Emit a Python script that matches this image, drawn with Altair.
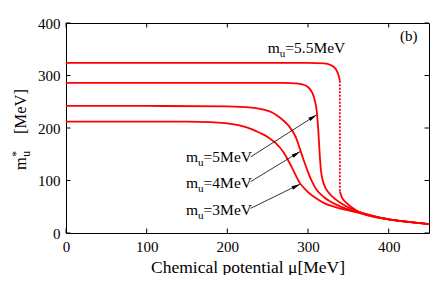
import math
import altair as alt
import pandas as pd

# ---------------- data ----------------
mu_3 = [0, 100, 150, 180, 200, 215, 230, 240, 250, 260, 270, 280, 290, 300, 310, 320, 335, 350, 370, 400, 425, 450]
m_3 = [212, 212, 212, 211, 209, 205, 198, 191, 183, 171, 153, 125, 95, 78, 66, 57, 49, 43, 36, 26, 21, 17]

mu_4 = [0, 100, 200, 230, 245, 255, 265, 275, 285, 290, 295, 300, 305, 310, 320, 335, 350, 370, 400, 425, 450]
m_4 = [242, 242, 241, 239, 235, 230, 220, 206, 182, 160, 137, 116, 98, 84, 68, 54, 45, 37, 26, 21, 17]

mu_5 = [0, 100, 200, 270, 285, 293, 300, 305, 308, 311, 313, 314.5, 316, 318, 321, 325, 335, 345, 360, 380, 400, 425, 450]
m_5 = [286, 286, 286, 286, 285, 283, 278, 268, 255, 230, 190, 150, 120, 102, 88, 78, 63, 53, 42, 32, 26, 21, 17]

mu_55_hi = [0, 100, 200, 300, 320, 328, 333, 336, 338, 339.5]
m_55_hi = [324, 324, 324, 324, 323, 320, 315, 308, 300, 290]
mu_55_jump = [339.5, 339.5]
m_55_jump = [290, 79]
mu_55_lo = [339.5, 342, 348, 356, 364, 380, 400, 425, 450]
m_55_lo = [79, 68, 57, 47, 39, 31, 26, 21, 17]

# labels
label_mu = [148.7, 148.7, 148.7, 250.0]
label_m = [135, 86, 34, 343]
label_rest = ["=5MeV", "=4MeV", "=3MeV", "=5.5MeV"]

# arrows (start -> tip)
arrow_mu0 = [229, 229, 229]
arrow_m0 = [145, 98, 47]
arrow_mu1 = [310.6, 290, 290]
arrow_m1 = [225, 155, 93]

tick_vals = [0, 100, 200, 300, 400]

# ---------------- layout ----------------
W, H = 363, 210
XMAX, YMAX = 450, 400
FONT = "Liberation Serif"
RED = "#ff0000"
LBL = 15.5

xs = alt.Scale(domain=[0, XMAX], nice=False, zero=False)
ys = alt.Scale(domain=[0, YMAX], nice=False, zero=False)
x_axis = alt.Axis(
    values=tick_vals, ticks=False, domain=False, grid=False, labelFont=FONT,
    labelFontSize=15, labelColor="black", labelPadding=6, labelFlush=False,
    title="Chemical potential μ[MeV]", titleFont=FONT, titleFontSize=17.5,
    titleFontWeight="normal", titleColor="black", titlePadding=4)
y_axis = alt.Axis(
    values=tick_vals, ticks=False, domain=False, grid=False, labelFont=FONT,
    labelFontSize=15, labelColor="black", labelPadding=6, labelFlush=False, title="")


def X(f):
    return alt.X(f, scale=xs, axis=x_axis)


def Y(f):
    return alt.Y(f, scale=ys, axis=y_axis)


rows = []
for name, mus, ms in [("3", mu_3, m_3), ("4", mu_4, m_4), ("5", mu_5, m_5),
                      ("55hi", mu_55_hi, m_55_hi), ("55lo", mu_55_lo, m_55_lo)]:
    for i, (a, b) in enumerate(zip(mus, ms)):
        rows.append({"series": name, "mu": a, "m": b, "o": i})
lines_df = pd.DataFrame(rows)
jump_df = pd.DataFrame({"mu": mu_55_jump, "m": m_55_jump})

lines = alt.Chart(lines_df).mark_line(color=RED, strokeWidth=1.8, interpolate="monotone").encode(
    x=X("mu:Q"), y=Y("m:Q"), detail="series:N", order="o:Q")

jump = alt.Chart(jump_df).mark_line(color=RED, strokeWidth=1.8, strokeDash=[2, 1.5]).encode(
    x=X("mu:Q"), y=Y("m:Q"))

# inward ticks
tdf = pd.DataFrame({"t": tick_vals})
TL = 4.5
tick_b = alt.Chart(tdf).mark_rule(color="black", strokeWidth=1).encode(
    x=X("t:Q"), y=alt.value(H), y2=alt.value(H - TL))
tick_t = alt.Chart(tdf).mark_rule(color="black", strokeWidth=1).encode(
    x=X("t:Q"), y=alt.value(0), y2=alt.value(TL))
tick_l = alt.Chart(tdf).mark_rule(color="black", strokeWidth=1).encode(
    y=Y("t:Q"), x=alt.value(0), x2=alt.value(TL))
tick_r = alt.Chart(tdf).mark_rule(color="black", strokeWidth=1).encode(
    y=Y("t:Q"), x=alt.value(W), x2=alt.value(W - TL))

# arrows
px_x = W / XMAX
px_y = H / YMAX
angles = []
for a0, b0, a1, b1 in zip(arrow_mu0, arrow_m0, arrow_mu1, arrow_m1):
    dx = (a1 - a0) * px_x
    dy = -(b1 - b0) * px_y
    angles.append(math.degrees(math.atan2(dy, dx)) + 90)
adf = pd.DataFrame({"mu0": arrow_mu0, "m0": arrow_m0, "mu1": arrow_mu1, "m1": arrow_m1, "ang": angles})
arrow_lines = alt.Chart(adf).mark_rule(color="black", strokeWidth=0.8).encode(
    x=X("mu0:Q"), y=Y("m0:Q"), x2="mu1:Q", y2="m1:Q")
arrow_heads = alt.Chart(adf).mark_point(
    shape="M0,0L-0.9,4L0.9,4Z", filled=True, color="black", opacity=1, size=18, strokeWidth=0
).encode(x=X("mu1:Q"), y=Y("m1:Q"), angle=alt.Angle("ang:Q", scale=None))

# labels m_u=...
ldf = pd.DataFrame({"mu": label_mu, "m": label_m, "rest": label_rest})
lab_m = alt.Chart(ldf).mark_text(font=FONT, fontSize=LBL, align="left", baseline="alphabetic", color="black").encode(
    x=X("mu:Q"), y=Y("m:Q"), text=alt.value("m"))
lab_u = alt.Chart(ldf).mark_text(font=FONT, fontSize=11, align="left", baseline="alphabetic", color="black",
                                 dx=LBL * 0.778, dy=3.8).encode(x=X("mu:Q"), y=Y("m:Q"), text=alt.value("u"))
lab_rest = alt.Chart(ldf).mark_text(font=FONT, fontSize=LBL, align="left", baseline="alphabetic", color="black",
                                    dx=LBL * 0.778 + 5.6).encode(x=X("mu:Q"), y=Y("m:Q"), text="rest:N")

bdf = pd.DataFrame({"mu": [425], "m": [365], "t": ["(b)"]})
lab_b = alt.Chart(bdf).mark_text(font=FONT, fontSize=15, align="center", baseline="alphabetic", color="black").encode(
    x=X("mu:Q"), y=Y("m:Q"), text="t:N")

# y-axis title  m*_u [MeV]
one = pd.DataFrame({"k": [0]})
YT_X, YT_Y = -40, 147
yt_m = alt.Chart(one).mark_text(font=FONT, fontSize=16.5, align="left", baseline="alphabetic", angle=270,
                                color="black").encode(x=alt.value(YT_X), y=alt.value(YT_Y), text=alt.value("m"))
yt_u = alt.Chart(one).mark_text(font=FONT, fontSize=11.5, align="left", baseline="alphabetic", angle=270,
                                color="black", dx=13.3, dy=4).encode(x=alt.value(YT_X), y=alt.value(YT_Y), text=alt.value("u"))
yt_s = alt.Chart(one).mark_text(font=FONT, fontSize=11.5, align="left", baseline="alphabetic", angle=270,
                                color="black", dx=13.3, dy=-6.5).encode(x=alt.value(YT_X), y=alt.value(YT_Y), text=alt.value("*"))
yt_r = alt.Chart(one).mark_text(font=FONT, fontSize=16.5, align="left", baseline="alphabetic", angle=270,
                                color="black", dx=36).encode(x=alt.value(YT_X), y=alt.value(YT_Y), text=alt.value("[MeV]"))

chart = alt.layer(
    lines, jump, tick_b, tick_t, tick_l, tick_r, arrow_lines, arrow_heads,
    lab_m, lab_u, lab_rest, lab_b, yt_m, yt_u, yt_s, yt_r
).properties(
    width=W, height=H,
    autosize=alt.AutoSizeParams(type="none"),
    padding={"left": 58, "top": 15, "right": 6, "bottom": 42},
    background="white",
).configure_view(stroke="black", strokeWidth=1).configure_axis(
    labelFont=FONT, titleFont=FONT, labelFontSize=15, titleFontSize=17.5,
    titleFontWeight="normal", labelColor="black", titleColor="black"
)

chart.save("out.html", embed_options={"renderer": "svg", "actions": False})
